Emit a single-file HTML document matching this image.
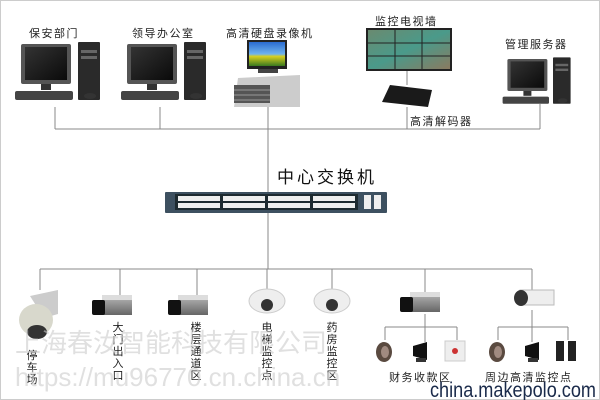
<!DOCTYPE html>
<html><head><meta charset="utf-8"><style>
html,body{margin:0;padding:0;background:#fff}
svg{display:block}
text{font-family:"Liberation Sans","Noto Sans CJK SC",sans-serif}
</style></head><body>
<svg width="600" height="400" viewBox="0 0 600 400" xmlns="http://www.w3.org/2000/svg">
<defs>
<linearGradient id="scr" x1="0" y1="0" x2="1" y2="1"><stop offset="0" stop-color="#333"/><stop offset="1" stop-color="#0a0a0a"/></linearGradient>
<linearGradient id="sky" x1="0" y1="0" x2="0" y2="1"><stop offset="0" stop-color="#2a6bd0"/><stop offset="0.5" stop-color="#6fb3ee"/><stop offset="0.6" stop-color="#d8d020"/><stop offset="1" stop-color="#3a7a20"/></linearGradient>
<linearGradient id="tv" x1="0" y1="0" x2="1" y2="1"><stop offset="0" stop-color="#6a8a70"/><stop offset="0.5" stop-color="#4a9a8a"/><stop offset="1" stop-color="#8a7a60"/></linearGradient>
<linearGradient id="cam" x1="0" y1="0" x2="0" y2="1"><stop offset="0" stop-color="#bbb"/><stop offset="1" stop-color="#666"/></linearGradient>
<g id="pc">
<rect x="3" y="0" width="50" height="40" fill="#555" rx="2"/>
<rect x="7" y="3" width="42" height="33" fill="url(#scr)"/>
<rect x="23" y="40" width="10" height="6" fill="#333"/>
<rect x="-3" y="47" width="58" height="9" fill="#444" rx="2"/>
<rect x="60" y="-2" width="22" height="58" fill="#2a2a2a" rx="1"/>
<rect x="63" y="6" width="16" height="3" fill="#666"/>
<rect x="63" y="12" width="16" height="3" fill="#666"/>
<ellipse cx="72" cy="52" rx="6" ry="3" fill="#333"/>
</g>
<g id="boxcam">
<rect x="10" y="0" width="30" height="20" fill="url(#cam)"/>
<rect x="10" y="0" width="30" height="5" fill="#ddd"/>
<rect x="0" y="5" width="13" height="15" fill="#111" rx="2"/>
</g>
<g id="spk"><ellipse cx="9" cy="10" rx="8" ry="10" fill="#5a4a40"/><ellipse cx="10" cy="10" rx="4" ry="6" fill="#a08a80"/></g>
<g id="horn"><path d="M0 4 L14 0 L14 18 L0 14 Z" fill="#111"/><rect x="3" y="16" width="10" height="4" fill="#333"/></g>
</defs>

<rect x="0.5" y="0.5" width="599" height="399" fill="none" stroke="#ccc"/>

<g font-size="11" fill="#222" letter-spacing="1.5">
<text x="29" y="37">保安部门</text>
<text x="132" y="37">领导办公室</text>
<text x="226" y="37">高清硬盘录像机</text>
<text x="375" y="25">监控电视墙</text>
<text x="505" y="48">管理服务器</text>
<text x="410" y="125">高清解码器</text>
</g>

<use href="#pc" x="18" y="44"/>
<use href="#pc" x="124" y="44"/>
<g transform="translate(505,59) scale(0.8)"><use href="#pc" x="0" y="0"/></g>

<!-- NVR -->
<rect x="247" y="40" width="40" height="29" fill="#222"/>
<rect x="249" y="42" width="36" height="24" fill="url(#sky)"/>
<rect x="258" y="69" width="20" height="4" fill="#444"/>
<path d="M238 78 L300 75 L300 107 L234 107 Z" fill="#ccc"/>
<rect x="234" y="85" width="36" height="18" fill="#555"/>
<g stroke="#999" stroke-width="1"><line x1="234" y1="90" x2="270" y2="90"/><line x1="234" y1="95" x2="270" y2="95"/><line x1="234" y1="100" x2="270" y2="100"/></g>

<!-- TV wall -->
<rect x="366" y="28" width="86" height="43" fill="#222"/>
<rect x="368" y="30" width="82" height="39" fill="url(#tv)"/>
<g stroke="#222" stroke-width="1"><line x1="368" y1="43" x2="450" y2="43"/><line x1="368" y1="56" x2="450" y2="56"/><line x1="395" y1="30" x2="395" y2="69"/><line x1="422" y1="30" x2="422" y2="69"/></g>
<path d="M390 85 L432 90 L428 107 L382 102 Z" fill="#1a1a1a"/>

<g stroke="#888" stroke-width="1" fill="none">
<line x1="55" y1="129" x2="540" y2="129"/>
<line x1="55" y1="107" x2="55" y2="129"/>
<line x1="160" y1="107" x2="160" y2="129"/>
<line x1="268" y1="107" x2="268" y2="192"/>
<line x1="407" y1="71" x2="407" y2="85"/>
<line x1="407" y1="107" x2="407" y2="129"/>
<line x1="540" y1="104" x2="540" y2="129"/>
<line x1="268" y1="213" x2="268" y2="269"/>
<line x1="40" y1="269" x2="532" y2="269"/>
<line x1="40" y1="269" x2="40" y2="290"/>
<line x1="120" y1="269" x2="120" y2="296"/>
<line x1="197" y1="269" x2="197" y2="296"/>
<line x1="267" y1="269" x2="267" y2="290"/>
<line x1="332" y1="269" x2="332" y2="290"/>
<line x1="425" y1="269" x2="425" y2="292"/>
<line x1="532" y1="269" x2="532" y2="290"/>
<line x1="425" y1="314" x2="425" y2="342"/>
<line x1="385" y1="327" x2="457" y2="327"/>
<line x1="385" y1="327" x2="385" y2="340"/>
<line x1="457" y1="327" x2="457" y2="340"/>
<line x1="532" y1="310" x2="532" y2="342"/>
<line x1="498" y1="327" x2="568" y2="327"/>
<line x1="498" y1="327" x2="498" y2="340"/>
<line x1="568" y1="327" x2="568" y2="340"/>
</g>

<text x="277" y="183" font-size="17" fill="#111" letter-spacing="3">中心交换机</text>
<rect x="165" y="192" width="222" height="21" fill="#3d5060" rx="1"/>
<rect x="175" y="194" width="183" height="16" fill="#1d2a30"/>
<g fill="#eee">
<rect x="178" y="196" width="42" height="5"/><rect x="223" y="196" width="42" height="5"/><rect x="268" y="196" width="42" height="5"/><rect x="313" y="196" width="42" height="5"/>
<rect x="178" y="203" width="42" height="5"/><rect x="223" y="203" width="42" height="5"/><rect x="268" y="203" width="42" height="5"/><rect x="313" y="203" width="42" height="5"/>
<rect x="364" y="195" width="7" height="14"/><rect x="374" y="195" width="7" height="14"/>
</g>

<!-- cameras -->
<path d="M30 296 L58 290 L58 314 L44 318 Z" fill="#ccc"/>
<ellipse cx="36" cy="320" rx="17" ry="16" fill="#d8d8cc"/>
<ellipse cx="37" cy="332" rx="10" ry="7" fill="#333"/>
<use href="#boxcam" x="92" y="295"/>
<use href="#boxcam" x="168" y="295"/>
<ellipse cx="267" cy="301" rx="18" ry="12" fill="#eee" stroke="#ccc"/><circle cx="267" cy="305" r="6" fill="#333"/>
<ellipse cx="332" cy="301" rx="18" ry="12" fill="#eee" stroke="#ccc"/><circle cx="332" cy="305" r="6" fill="#333"/>
<use href="#boxcam" x="400" y="292"/>
<rect x="520" y="290" width="34" height="15" fill="#eee" stroke="#bbb"/>
<ellipse cx="521" cy="298" rx="7" ry="8" fill="#333"/>
<use href="#spk" x="375" y="342"/><use href="#horn" x="413" y="342"/>
<rect x="445" y="341" width="20" height="20" fill="#eee" stroke="#ccc"/><circle cx="455" cy="351" r="3" fill="#c33"/>
<use href="#spk" x="488" y="342"/><use href="#horn" x="525" y="342"/>
<rect x="556" y="341" width="8" height="20" fill="#222"/><rect x="568" y="341" width="8" height="20" fill="#222"/>

<g font-size="11" fill="#222" text-anchor="middle">
<text x="32" y="359">停</text><text x="32" y="371">车</text><text x="32" y="383">场</text>
<text x="118" y="331">大</text><text x="118" y="343">门</text><text x="118" y="355">出</text><text x="118" y="367">入</text><text x="118" y="379">口</text>
<text x="196" y="331">楼</text><text x="196" y="343">层</text><text x="196" y="355">通</text><text x="196" y="367">道</text><text x="196" y="379">区</text>
<text x="267" y="331">电</text><text x="267" y="343">梯</text><text x="267" y="355">监</text><text x="267" y="367">控</text><text x="267" y="379">点</text>
<text x="332" y="331">药</text><text x="332" y="343">房</text><text x="332" y="355">监</text><text x="332" y="367">控</text><text x="332" y="379">区</text>
</g>
<g font-size="11" fill="#222" letter-spacing="1.5">
<text x="389" y="381">财务收款区</text>
<text x="485" y="381">周边高清监控点</text>
</g>

<text x="15" y="352" font-size="26" fill="#ccc" fill-opacity="0.6">上海春汝智能科技有限公司</text>
<text x="15" y="386" font-size="26" fill="#ccc" fill-opacity="0.6">https://mu96770.cn.china.cn</text>
<text x="430" y="397" font-size="21" fill="#1a2a4a" textLength="166" lengthAdjust="spacingAndGlyphs">china.makepolo.com</text>
</svg>
</body></html>
